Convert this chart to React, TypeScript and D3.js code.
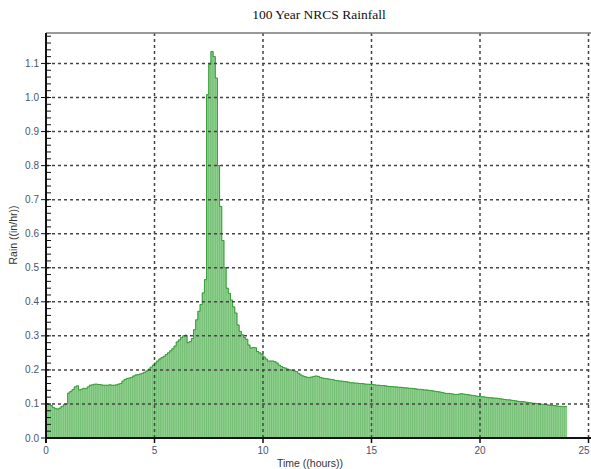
import React from 'react'
import * as d3 from 'd3'

// rainfall intensity, one value per 0.1 hour (240 bars, 0 -> 24 h)
const rainEarly = [
  0.100, 0.098, 0.095, 0.090, 0.086, 0.085, 0.088, 0.093, 0.098, 0.100,
  0.132, 0.137, 0.142, 0.150, 0.153, 0.141, 0.143, 0.146, 0.145, 0.150,
  0.155, 0.156, 0.158, 0.158, 0.157, 0.156, 0.155, 0.155, 0.155, 0.156,
  0.155, 0.155, 0.156, 0.158, 0.160, 0.167, 0.172, 0.175, 0.176, 0.178,
  0.182, 0.185, 0.186, 0.188, 0.190, 0.193, 0.197, 0.202, 0.208, 0.214,
  0.220, 0.226, 0.232, 0.236, 0.240, 0.245, 0.250, 0.256, 0.262, 0.270,
  0.282, 0.288, 0.295, 0.300, 0.302, 0.280, 0.283, 0.292, 0.318, 0.347,
  0.372, 0.392, 0.426, 0.465,
]
const rainPeak = [
  1.008, 1.097, 1.135, 1.120, 1.057, 0.800, 0.680, 0.580, 0.500, 0.440,
  0.425, 0.405, 0.385, 0.367, 0.332, 0.313, 0.303, 0.295, 0.290, 0.273,
  0.264, 0.266, 0.265, 0.254, 0.250, 0.246,
]
const rainLate = [
  0.238, 0.232, 0.226, 0.226, 0.226, 0.224, 0.220, 0.214, 0.210, 0.207,
  0.205, 0.202, 0.200, 0.199, 0.197, 0.195, 0.190, 0.185, 0.182, 0.180,
  0.178, 0.178, 0.179, 0.181, 0.182, 0.181, 0.178, 0.176, 0.175, 0.174,
  0.173, 0.172, 0.171, 0.169, 0.168, 0.167, 0.167, 0.166, 0.165, 0.164,
  0.162, 0.162, 0.161, 0.161, 0.160, 0.160, 0.159, 0.158, 0.158, 0.157,
  0.157, 0.156, 0.155, 0.155, 0.154, 0.154, 0.153, 0.152, 0.151, 0.151,
  0.150, 0.150, 0.149, 0.149, 0.148, 0.147, 0.147, 0.146, 0.146, 0.145,
  0.144, 0.143, 0.143, 0.142, 0.141, 0.141, 0.140, 0.139, 0.138, 0.137,
  0.136, 0.135, 0.134, 0.132, 0.131, 0.131, 0.130, 0.129, 0.128, 0.128,
  0.129, 0.130, 0.129, 0.128, 0.127, 0.126, 0.125, 0.124, 0.123, 0.122,
  0.121, 0.121, 0.120, 0.119, 0.118, 0.118, 0.117, 0.117, 0.116, 0.115,
  0.114, 0.113, 0.112, 0.112, 0.111, 0.110, 0.109, 0.108, 0.107, 0.107,
  0.106, 0.105, 0.104, 0.103, 0.102, 0.102, 0.101, 0.100, 0.099, 0.099,
  0.098, 0.097, 0.096, 0.095, 0.095, 0.094, 0.093, 0.093, 0.092, 0.092,
]
const rain = [...rainEarly, ...rainPeak, ...rainLate]
const step = 0.1

const xTicks = [0, 5, 10, 15, 20, 25]
const yTicks = [0, 0.1, 0.2, 0.3, 0.4, 0.5, 0.6, 0.7, 0.8, 0.9, 1.0, 1.1]
const yMinor = d3.range(0, 1.19, 0.02)

function App() {
  const width = 591
  const height = 469
  const left = 46
  const right = 588.5
  const top = 33
  const bottom = 438

  const x = d3.scaleLinear().domain([0, 25]).range([left, right])
  const y = d3.scaleLinear().domain([0, 1]).range([bottom, bottom - 340.5])

  const outline = d3
    .line<number>()
    .x((_, i) => x(i * step))
    .y(d => y(d))
    .curve(d3.curveStepAfter)
  const outlinePts = [...rain, rain[rain.length - 1]]

  const labelFont = 'Liberation Sans, Arial, sans-serif'
  const grid = '#444'

  return (
    <svg width={width} height={height} style={{ position: 'absolute', left: 0, top: 0, background: '#fff' }}>
      <text x={319} y={19} textAnchor="middle" fontFamily="Liberation Serif, Times New Roman, serif" fontSize={13.5} fill="#111">
        100 Year NRCS Rainfall
      </text>

      {/* bars */}
      <g>
        {rain.map((v, i) => (
          <rect
            key={i}
            x={x(i * step)}
            y={y(v)}
            width={x(step) - x(0)}
            height={bottom - y(v)}
            fill="#8fd08f"
            stroke="#6ab86a"
            strokeWidth={0.6}
          />
        ))}
        <path d={outline(outlinePts) ?? ''} fill="none" stroke="#3a9a3a" strokeWidth={1} />
      </g>

      {/* dotted grid */}
      {yTicks.filter(t => t > 0).map(t => (
        <line key={'gy' + t} x1={left} x2={width} y1={y(t)} y2={y(t)} stroke={grid} strokeWidth={1.5} strokeDasharray="3,3" />
      ))}
      {xTicks.filter(t => t > 0).map(t => (
        <line key={'gx' + t} x1={x(t)} x2={x(t)} y1={top} y2={bottom} stroke={grid} strokeWidth={1.5} strokeDasharray="3,3" />
      ))}

      {/* frame */}
      <line x1={left} x2={width} y1={top} y2={top} stroke="#777" strokeWidth={1.5} />
      <line x1={left} x2={width} y1={bottom} y2={bottom} stroke="#111" strokeWidth={2} />
      <line x1={left} x2={left} y1={top} y2={bottom + 5} stroke="#111" strokeWidth={2} />

      {/* y axis ticks */}
      {yMinor.map((t, i) => (
        <line key={'my' + i} x1={left} x2={left + 5} y1={y(t)} y2={y(t)} stroke="#111" strokeWidth={1} />
      ))}
      {yTicks.map(t => (
        <g key={'ty' + t}>
          <line x1={left - 5} x2={left} y1={y(t)} y2={y(t)} stroke="#111" strokeWidth={1} />
          <text x={left - 7} y={y(t)} dy="0.35em" textAnchor="end" fontFamily={labelFont} fontSize={10} fill="#4a5468">
            {d3.format('.1f')(t)}
          </text>
        </g>
      ))}

      {/* x axis ticks */}
      {xTicks.map(t => (
        <g key={'tx' + t}>
          <line x1={x(t)} x2={x(t)} y1={bottom} y2={bottom + 5} stroke="#111" strokeWidth={1.5} />
          <text x={Math.min(x(t), width - 7)} y={bottom + 16} textAnchor="middle" fontFamily={labelFont} fontSize={10} fill="#4a5468">
            {t}
          </text>
        </g>
      ))}

      <text x={310} y={467} textAnchor="middle" fontFamily={labelFont} fontSize={10.5} fill="#333">
        Time  ((hours))
      </text>
      <text transform={`translate(17 ${235}) rotate(-90)`} textAnchor="middle" fontFamily={labelFont} fontSize={10.5} fill="#333">
        Rain  ((in/hr))
      </text>
    </svg>
  )
}

export default App
